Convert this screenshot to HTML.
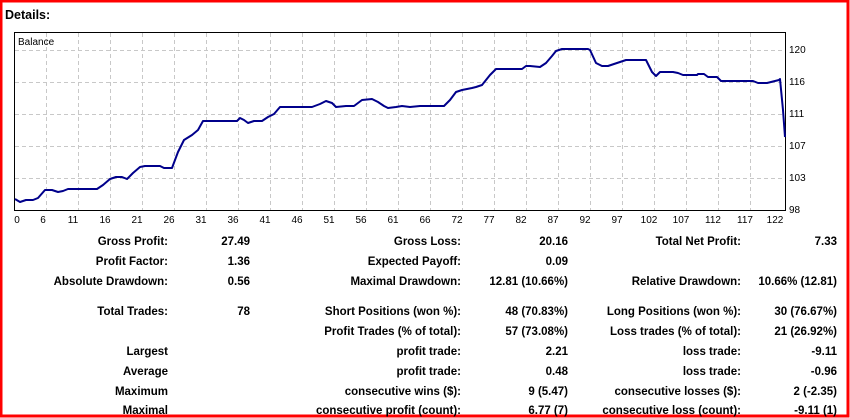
<!DOCTYPE html>
<html><head><meta charset="utf-8"><style>
html,body{margin:0;padding:0;background:#fff}
svg{display:block}
text{font-family:"Liberation Sans",Tahoma,sans-serif}
.b{font-weight:bold;font-size:11.5px;fill:#000}
.t{font-size:10px;fill:#000}
</style></head><body>
<svg width="850" height="418" xmlns="http://www.w3.org/2000/svg">
<rect x="0" y="0" width="850" height="418" fill="#fff"/>
<rect x="1" y="1" width="847" height="415" fill="none" stroke="#f00" stroke-width="3"/>
<text x="5" y="19" class="b" style="font-size:12.5px">Details:</text>
<rect x="14.5" y="32.5" width="771" height="178" fill="#fff" stroke="#000" stroke-width="1"/>
<g stroke="#c8c8c8" stroke-dasharray="4,3" stroke-width="1">
<line x1="15" y1="50.5" x2="785" y2="50.5"/><line x1="15" y1="82.5" x2="785" y2="82.5"/>
<line x1="15" y1="114.5" x2="785" y2="114.5"/><line x1="15" y1="146.5" x2="785" y2="146.5"/>
<line x1="15" y1="178.5" x2="785" y2="178.5"/>
<line x1="46.5" y1="33" x2="46.5" y2="210"/><line x1="78.5" y1="33" x2="78.5" y2="210"/>
<line x1="110.5" y1="33" x2="110.5" y2="210"/><line x1="142.5" y1="33" x2="142.5" y2="210"/>
<line x1="174.5" y1="33" x2="174.5" y2="210"/><line x1="206.5" y1="33" x2="206.5" y2="210"/>
<line x1="238.5" y1="33" x2="238.5" y2="210"/><line x1="270.5" y1="33" x2="270.5" y2="210"/>
<line x1="302.5" y1="33" x2="302.5" y2="210"/><line x1="334.5" y1="33" x2="334.5" y2="210"/>
<line x1="366.5" y1="33" x2="366.5" y2="210"/><line x1="398.5" y1="33" x2="398.5" y2="210"/>
<line x1="430.5" y1="33" x2="430.5" y2="210"/><line x1="462.5" y1="33" x2="462.5" y2="210"/>
<line x1="494.5" y1="33" x2="494.5" y2="210"/><line x1="526.5" y1="33" x2="526.5" y2="210"/>
<line x1="558.5" y1="33" x2="558.5" y2="210"/><line x1="590.5" y1="33" x2="590.5" y2="210"/>
<line x1="622.5" y1="33" x2="622.5" y2="210"/><line x1="654.5" y1="33" x2="654.5" y2="210"/>
<line x1="686.5" y1="33" x2="686.5" y2="210"/><line x1="718.5" y1="33" x2="718.5" y2="210"/>
<line x1="750.5" y1="33" x2="750.5" y2="210"/>
</g>
<text x="18" y="45" class="t">Balance</text>
<polyline fill="none" stroke="#00008b" stroke-width="2" stroke-linejoin="round" points="15,199 20,202 26,200 33,200 38,198 45,190 52,190 58,192 63,191 68,189 80,189 97,189 103,185 110,179 116,177 122,177 127,179 133,173 140,167 145,166 160,166 164,168 172,168 178,152 184,140 192,135 198,130 203,121 237,121 240,118 244,120 248,123 254,121 262,121 268,117 274,114 280,107 312,107 320,104 326,101 332,103 336,107 346,106 354,106 362,100 372,99 378,102 384,106 388,108 396,107 402,106 410,107 420,106 444,106 450,100 456,92 462,90 472,88 476,87 482,85 486,80 490,75 492,73 496,69 522,69 526,66 530,66 540,67 546,63 552,56 556,51 562,49 588,49 590,50 596,63 602,66 608,66 614,64 620,62 626,60 646,60 652,72 656,76 660,72 673,72 678,73 683,75 697,75 698,74 704,74 708,77 717,77 721,81 753,81 758,83 767,83 779,80 780,79 783,110 785,137"/>
<g class="t" text-anchor="start">
<text x="789" y="53">120</text><text x="789" y="85">116</text><text x="789" y="117">111</text>
<text x="789" y="149">107</text><text x="789" y="181">103</text><text x="789" y="213">98</text>
</g>
<g class="t" text-anchor="middle">
<text x="17" y="223">0</text><text x="43" y="223">6</text><text x="73" y="223">11</text><text x="105" y="223">16</text>
<text x="137" y="223">21</text><text x="169" y="223">26</text><text x="201" y="223">31</text><text x="233" y="223">36</text>
<text x="265" y="223">41</text><text x="297" y="223">46</text><text x="329" y="223">51</text><text x="361" y="223">56</text>
<text x="393" y="223">61</text><text x="425" y="223">66</text><text x="457" y="223">72</text><text x="489" y="223">77</text>
<text x="521" y="223">82</text><text x="553" y="223">87</text><text x="585" y="223">92</text><text x="617" y="223">97</text>
<text x="649" y="223">102</text><text x="681" y="223">107</text><text x="713" y="223">112</text><text x="745" y="223">117</text>
<text x="775" y="223">122</text>
</g>
<g class="b" text-anchor="end">
<text x="168" y="245">Gross Profit:</text><text x="250" y="245">27.49</text>
<text x="461" y="245">Gross Loss:</text><text x="568" y="245">20.16</text>
<text x="741" y="245">Total Net Profit:</text><text x="837" y="245">7.33</text>
<text x="168" y="265">Profit Factor:</text><text x="250" y="265">1.36</text>
<text x="461" y="265">Expected Payoff:</text><text x="568" y="265">0.09</text>
<text x="168" y="285">Absolute Drawdown:</text><text x="250" y="285">0.56</text>
<text x="461" y="285">Maximal Drawdown:</text><text x="568" y="285">12.81 (10.66%)</text>
<text x="741" y="285">Relative Drawdown:</text><text x="837" y="285">10.66% (12.81)</text>
<text x="168" y="315">Total Trades:</text><text x="250" y="315">78</text>
<text x="461" y="315">Short Positions (won %):</text><text x="568" y="315">48 (70.83%)</text>
<text x="741" y="315">Long Positions (won %):</text><text x="837" y="315">30 (76.67%)</text>
<text x="461" y="335">Profit Trades (% of total):</text><text x="568" y="335">57 (73.08%)</text>
<text x="741" y="335">Loss trades (% of total):</text><text x="837" y="335">21 (26.92%)</text>
<text x="168" y="355">Largest</text>
<text x="461" y="355">profit trade:</text><text x="568" y="355">2.21</text>
<text x="741" y="355">loss trade:</text><text x="837" y="355">-9.11</text>
<text x="168" y="375">Average</text>
<text x="461" y="375">profit trade:</text><text x="568" y="375">0.48</text>
<text x="741" y="375">loss trade:</text><text x="837" y="375">-0.96</text>
<text x="168" y="395">Maximum</text>
<text x="461" y="395">consecutive wins ($):</text><text x="568" y="395">9 (5.47)</text>
<text x="741" y="395">consecutive losses ($):</text><text x="837" y="395">2 (-2.35)</text>
<text x="168" y="414">Maximal</text>
<text x="461" y="414">consecutive profit (count):</text><text x="568" y="414">6.77 (7)</text>
<text x="741" y="414">consecutive loss (count):</text><text x="837" y="414">-9.11 (1)</text>
</g>
</svg>
</body></html>
